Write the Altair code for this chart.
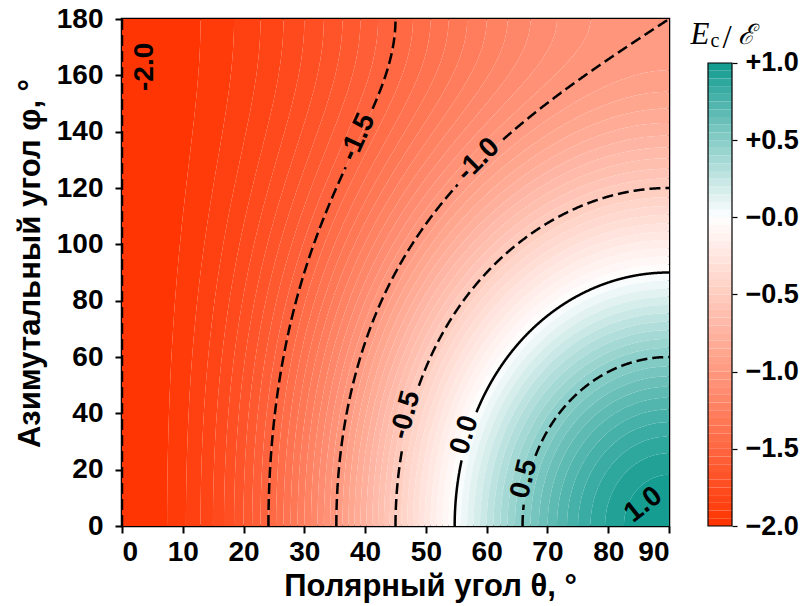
import math
import numpy as np
import pandas as pd
import altair as alt

# ---------------- data ----------------
theta_ticks = [0, 10, 20, 30, 40, 50, 60, 70, 80, 90]
phi_ticks = [0, 20, 40, 60, 80, 100, 120, 140, 160, 180]
cbar_ticks = [-2.0, -1.5, -1.0, -0.5, 0.0, 0.5, 1.0]

line_levels = [-2.0, -1.5, -1.0, -0.5, 0.0, 0.5]
line_style = ["dash", "dash", "dash", "dash", "solid", "dash"]

label_text = ["-2.0", "-1.5", "-1.0", "-0.5", "0.0", "0.5", "1.0"]
label_level = [-2.0, -1.5, -1.0, -0.5, 0.0, 0.5, 1.0]
label_theta = [3.8, 38.8, 58.6, 46.7, 56.4, 66.2, 85.8]
label_phi = [163.0, 138.0, 130.0, 39.4, 32.3, 16.7, 7.5]

band_levels = [round(-2.0 + 0.05 * k, 2) for k in range(61)]

color_low, color_mid, color_high = "#ff3300", "#ffffff", "#109a8f"

W, H = 547, 507


# field of the figure: E_c/E = -2 + sin^2(theta) * (2 + cos(phi))
def theta_on_level(c, phi_deg):
    s2 = (c + 2.0) / (2.0 + math.cos(math.radians(phi_deg)))
    s2 = min(max(s2, 0.0), 1.0)
    return math.degrees(math.asin(math.sqrt(s2)))


def phi_on_level(c, theta_deg):
    s2 = math.sin(math.radians(theta_deg)) ** 2
    if s2 <= 0:
        return None
    cphi = (c + 2.0) / s2 - 2.0
    if cphi < -1.0 or cphi > 1.0:
        return None
    return math.degrees(math.acos(cphi))


def to_px(theta, phi):
    return theta * W / 90.0, (180.0 - phi) * H / 180.0


# ---------------- filled bands ----------------
band_rows = []
dense_theta = list(np.linspace(55.0, 90.0, 141))
for k in range(len(band_levels) - 1):
    a, b = band_levels[k], band_levels[k + 1]
    phis = set(float(p) for p in range(0, 181))
    for c in (a, b):
        for t in dense_theta:
            p = phi_on_level(c, t)
            if p is not None:
                phis.add(round(p, 4))
    phis = sorted(phis)
    reached = False
    for p in phis:
        t0 = theta_on_level(a, p)
        t1 = theta_on_level(b, p)
        if t0 >= 90.0:
            if reached:
                continue
            reached = True
        band_rows.append({"band": k, "phi": round(p, 3), "t0": round(t0, 3),
                          "t1": round(t1, 3), "v": round((a + b) / 2, 3)})
bands_df = pd.DataFrame(band_rows)

cb_df = pd.DataFrame({
    "a": band_levels[:-1],
    "b": band_levels[1:],
    "v": [round((band_levels[i] + band_levels[i + 1]) / 2, 3) for i in range(len(band_levels) - 1)],
})

# ---------------- contour lines and labels ----------------
label_rows = []
for txt, c, lt, lp in zip(label_text, label_level, label_theta, label_phi):
    label_rows.append({"text": txt, "level": c, "theta": lt, "phi": lp})

line_rows = []
for c, style in zip(line_levels, line_style):
    pts = {}
    for i in range(0, 1801):
        p = i * 0.1
        s2 = (c + 2.0) / (2.0 + math.cos(math.radians(p)))
        if s2 <= 1.0 + 1e-12:
            pts[round(p, 4)] = theta_on_level(c, p)
    for t in np.linspace(0.05, 90.0, 900):
        p = phi_on_level(c, float(t))
        if p is not None:
            pts[round(p, 4)] = float(t)
    pl = sorted(pts.items())
    labs = [r for r in label_rows if r["level"] == c]
    seg = 0
    prev_in = False
    for p, t in pl:
        x, y = to_px(t, p)
        inside = False
        for r in labs:
            if c == -2.0:
                continue
            lx, ly = to_px(r["theta"], r["phi"])
            rad = 0.5 * len(r["text"]) * 13 + 6
            if (x - lx) ** 2 + (y - ly) ** 2 < rad ** 2:
                inside = True
        if inside:
            if not prev_in:
                seg += 1
            prev_in = True
            continue
        prev_in = False
        line_rows.append({"level": c, "seg": f"{c}_{seg}", "style": style,
                          "theta": round(t, 4), "phi": round(p, 4)})
lines_df = pd.DataFrame(line_rows)

# label angle along the line
for r in label_rows:
    if r["level"] == -2.0:
        r["ang"] = 270.0
        continue
    if r["level"] == 1.0:
        r["ang"] = 322.0
        continue
    c = r["level"]
    lx, ly = to_px(r["theta"], r["phi"])
    sub = lines_df[lines_df.level == c]
    d = [((to_px(t, p)[0] - lx) ** 2 + (to_px(t, p)[1] - ly) ** 2, t, p)
         for t, p in zip(sub.theta, sub.phi)]
    d.sort()
    pts_sorted = sorted([(p, t) for _, t, p in d[:40]])
    (p1, t1), (p2, t2) = pts_sorted[0], pts_sorted[-1]
    x1, y1 = to_px(t1, p1)
    x2, y2 = to_px(t2, p2)
    dx, dy = x2 - x1, y2 - y1
    if dx < 0:
        dx, dy = -dx, -dy
    r["ang"] = round(math.degrees(math.atan2(dy, dx)) % 360, 2)
labels_df = pd.DataFrame(label_rows)

# ---------------- chart ----------------
FONT = "Liberation Sans"
color_scale = alt.Scale(domain=[-2.0, 0.0, 1.0], range=[color_low, color_mid, color_high],
                        interpolate="rgb")
x_scale = alt.Scale(domain=[0, 90], nice=False, zero=False)
y_scale = alt.Scale(domain=[0, 180], nice=False, zero=False)
x_title = "Полярный угол θ, °"
y_title = "Азимутальный угол φ, °"
x_axis = alt.Axis(values=theta_ticks, title=x_title, grid=False, domain=False,
                  tickSize=7, tickWidth=2, labelPadding=5,
                  titleX=308, titleY=69, titleAlign="center", titleBaseline="alphabetic")
y_axis = alt.Axis(values=phi_ticks, title=y_title, grid=False, domain=False,
                  tickSize=7, tickWidth=2, labelPadding=12,
                  titleX=-83, titleY=244, titleAlign="center", titleBaseline="alphabetic",
                  titleAngle=270)

bands = alt.Chart(bands_df).mark_area(orient="horizontal", clip=True).encode(
    x=alt.X("t0:Q", scale=x_scale, axis=x_axis),
    x2="t1:Q",
    y=alt.Y("phi:Q", scale=y_scale, axis=y_axis),
    detail="band:N",
    color=alt.Color("v:Q", scale=color_scale, legend=None),
)

lines = alt.Chart(lines_df).mark_line(clip=True, color="black", strokeWidth=2.5).encode(
    x=alt.X("theta:Q", scale=x_scale, axis=x_axis),
    y=alt.Y("phi:Q", scale=y_scale, axis=y_axis),
    detail="seg:N",
    order="phi:Q",
    strokeDash=alt.StrokeDash("style:N", scale=alt.Scale(domain=["dash", "solid"],
                                                         range=[[11, 5], [1, 0]]), legend=None),
)

labels = alt.Chart(labels_df).mark_text(font=FONT, fontSize=28, fontWeight="bold",
                                        color="black", align="center", baseline="middle").encode(
    x=alt.X("theta:Q", scale=x_scale, axis=x_axis),
    y=alt.Y("phi:Q", scale=y_scale, axis=y_axis),
    text="text:N",
    angle=alt.Angle("ang:Q", scale=None),
)

main = alt.layer(bands, lines, labels).properties(width=W, height=H)

cb_scale = alt.Scale(domain=[-2.0, 1.285], nice=False, zero=False)
cb_axis = alt.Axis(orient="right", values=cbar_ticks, title=None, grid=False, domain=False,
                   tickSize=5, tickWidth=1.2, labelPadding=8, labelFontSize=27,
                   labelExpr="datum.value > 0 ? '+' + format(datum.value, '.1f') : '\u2212' + format(abs(datum.value), '.1f')")

cb_rects = alt.Chart(cb_df).mark_rect().encode(
    x=alt.value(0), x2=alt.value(24),
    y=alt.Y("a:Q", scale=cb_scale, axis=cb_axis), y2="b:Q",
    color=alt.Color("v:Q", scale=color_scale, legend=None),
)
frame_df = pd.DataFrame({"a": [-2.0], "b": [1.0]})
cb_frame = alt.Chart(frame_df).mark_rect(fillOpacity=0, stroke="black", strokeWidth=1.2).encode(
    x=alt.value(0), x2=alt.value(24),
    y=alt.Y("a:Q", scale=cb_scale, axis=cb_axis), y2="b:Q",
)
one = pd.DataFrame({"k": [0]})
t_E = alt.Chart(one).mark_text(text="E", font="Liberation Serif", fontStyle="italic",
                               fontSize=31, align="center", baseline="alphabetic").encode(
    x=alt.value(-8), y=alt.value(25))
t_c = alt.Chart(one).mark_text(text="c", font="Liberation Serif", fontSize=20,
                               align="center", baseline="alphabetic").encode(
    x=alt.value(7), y=alt.value(28))
t_sl = alt.Chart(one).mark_text(text="/", font="Liberation Serif", fontSize=33,
                                align="center", baseline="alphabetic").encode(
    x=alt.value(19), y=alt.value(29))
t_sc = alt.Chart(one).mark_text(text="ℰ", font="DejaVu Serif", fontStyle="italic", fontSize=28,
                                align="center", baseline="alphabetic").encode(
    x=alt.value(38), y=alt.value(25))

cbar = alt.layer(cb_rects, cb_frame, t_E, t_c, t_sl, t_sc).properties(
    width=24, height=H, view=alt.ViewBackground(stroke="transparent"))

chart = alt.hconcat(main, cbar, spacing=17).properties(
    padding={"left": 12, "top": 3, "right": 2, "bottom": 2},
    background="white",
).configure_axis(
    labelFont=FONT, labelFontSize=28, labelFontWeight="bold", labelColor="black",
    titleFont=FONT, titleFontSize=31, titleFontWeight="bold", titleColor="black",
    tickColor="black",
).configure_view(stroke="black", strokeWidth=2.5)

chart.save("out.html", embed_options={"renderer": "svg", "actions": False})
